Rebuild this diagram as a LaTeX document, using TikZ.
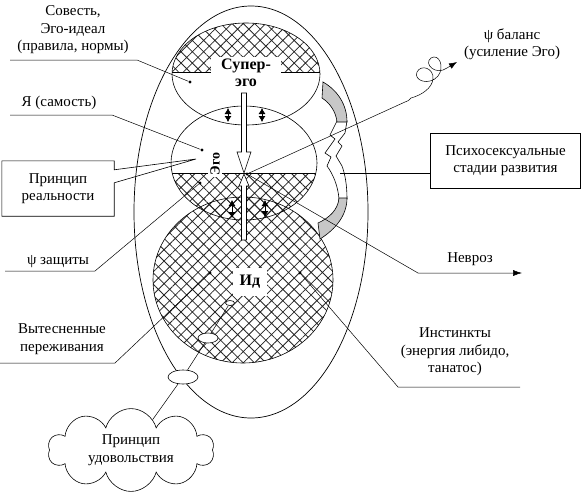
\documentclass[tikz,border=0pt]{standalone}
\usepackage{fontspec}
\setmainfont{Liberation Serif}
\usetikzlibrary{calc,positioning,arrows.meta,shapes.geometric,shapes.symbols,patterns.meta}
\tikzset{
  line/.style={line width=0.6pt},
  leader/.style={line width=0.5pt},
  dot/.style={circle, fill, inner sep=0pt, minimum size=3.4pt},
  txt/.style={align=center, inner sep=1pt, font=\fontsize{15}{17.5}\selectfont},
  head/.style={align=center, fill=white, font=\fontsize{16}{17}\selectfont\bfseries},
  hatch/.style={pattern={Hatch[angle=45, distance=8pt, line width=0.8pt]}, pattern color=black!85},
  twoway/.style={{Latex[length=6pt,width=7pt]}-{Latex[length=6pt,width=7pt]}, line width=0.8pt},
  hollow/.style={draw, fill=white, line width=0.6pt},
  stage/.style={draw, fill=black!22, line width=0.6pt},
  memory/.style={ellipse, draw, fill=white, inner sep=0pt, line width=0.6pt}
}

\begin{document}
\begin{tikzpicture}[x=1pt, y=-1pt]
  \useasboundingbox (0,0) rectangle (583,493);

  % hatched parts of the psyche
  \fill[hatch] (243,280) ellipse [x radius=90pt, y radius=83pt];
  \begin{scope}
    \clip (244,163) ellipse [x radius=73pt, y radius=57pt];
    \fill[hatch] (160,173) rectangle (330,230);
    \draw[line] (160,173) -- (330,173);
  \end{scope}
  \begin{scope}
    \clip (246,74) ellipse [x radius=74pt, y radius=51pt];
    \fill[hatch] (160,15) rectangle (330,72);
    \draw[line] (160,72) -- (330,72);
  \end{scope}

  % outlines
  \draw[line, line width=0.7pt] (251,212) ellipse [x radius=117pt, y radius=206pt];
  \draw[line] (246,74) ellipse [x radius=74pt, y radius=51pt];
  \draw[line] (244,163) ellipse [x radius=73pt, y radius=57pt];
  \draw[line] (243,280) ellipse [x radius=90pt, y radius=83pt];

  % tension between the instances
  \draw[twoway] (228,108) -- (228,122);
  \draw[twoway] (262,108) -- (262,122);
  \draw[twoway] (232,200) -- (232,218);
  \draw[twoway] (265,200) -- (265,217);

  % hollow arrows into the Ego
  \draw[hollow] (241.5,93) -- (246.5,93) -- (246.5,152) -- (251,152) -- (244,173)
    -- (237,152) -- (241.5,152) -- cycle;
  \draw[hollow] (241.5,240) -- (246.5,240) -- (246.5,186) -- (249,186) -- (244,174)
    -- (239,186) -- (241.5,186) -- cycle;

  \node[head, inner xsep=10pt, inner ysep=2pt] (superego) at (246,73) {Супер-\\эго};
  \node[head, rotate=90, inner sep=2pt, font=\fontsize{14}{15}\selectfont\bfseries] (egolabel) at (215,164) {Эго};
  \node[head, inner sep=7pt] (idlabel) at (250,282) {Ид};

  % repressed contents
  \node[memory, minimum width=9pt, minimum height=5pt] (memA) at (230,303) {};
  \node[memory, minimum width=20pt, minimum height=10pt] (memB) at (208,338) {};
  \node[memory, minimum width=30pt, minimum height=14pt] (memC) at (183,377) {};
  \node[cloud, draw, line width=0.6pt, cloud puffs=10, aspect=2.2, minimum width=166pt,
    minimum height=76pt, txt] (pleasure) at (131,450) {Принцип\\удовольствия};
  \draw[leader] (memA) -- (memB);
  \draw[leader] (memB) -- (memC);
  \draw[leader] (memC) -- (pleasure);

  % psychosexual stages
  \draw[hollow] (337,121) -- (330,135) -- (335,139) -- (325,153) -- (331,157) -- (327,166)
    .. controls (333,174) and (338,186) .. (339,199) -- (347,199)
    .. controls (347,185) and (345,174) .. (342,166) -- (336,156) -- (342,146)
    -- (338,142) -- (345,133) -- (347,121) -- cycle;
  \draw[stage] (323,82) .. controls (337,90) and (347,104) .. (347,122) -- (337,122)
    .. controls (336,112) and (330,103) .. (322,98) -- cycle;
  \draw[stage] (347,198) .. controls (347,215) and (336,229) .. (320,239) -- (318,223)
    .. controls (329,218) and (338,210) .. (339,198) -- cycle;
  \coordinate (stageMid) at (340,173);

  % dots
  \node[dot] (seDot) at (190,82) {};
  \node[dot] (selfDot) at (202,150) {};
  \node[dot] (defDot) at (200,183) {};
  \node[dot] (core) at (247,174) {};
  \node[dot] (repDot) at (210,273) {};
  \node[dot] (instDot) at (300,273) {};

  % labels left
  \node[txt] (conscience) at (73,30) {Совесть,\\Эго-идеал\\(правила, нормы)};
  \coordinate (conscienceEnd) at (10,60);
  \coordinate (conscienceBend) at (137,60);
  \draw[leader] (conscienceEnd) -- (conscienceBend) -- (seDot);

  \node[txt] (self) at (59,103) {Я (самость)};
  \coordinate (selfEnd) at (10,115);
  \coordinate (selfBend) at (112,115);
  \draw[leader] (selfEnd) -- (selfBend) -- (selfDot);

  \node[txt, minimum width=112pt, minimum height=55pt] (reality) at (58,188.5) {Принцип\\реальности};
  \coordinate (realTip) at (196,159);
  \draw[line] ($(reality.north east)+(0,9)$) -- (reality.north east) -- (reality.north west)
    -- (reality.south west) -- (reality.south east) -- ($(reality.north east)+(0,22)$)
    -- (realTip) -- cycle;

  \node[txt] (defence) at (58,262) {ψ защиты};
  \coordinate (defEnd) at (5,271);
  \coordinate (defBend) at (95,271);
  \draw[leader] (defEnd) -- (defBend) -- (defDot);

  \node[txt] (repressed) at (62,339) {Вытесненные\\переживания};
  \coordinate (repEnd) at (0,363);
  \coordinate (repBend) at (115,363);
  \draw[leader] (repEnd) -- (repBend) -- (repDot);

  % labels right
  \node[txt] (balance) at (512,44) {ψ баланс\\(усиление Эго)};
  \coordinate (balBend) at (405,102);
  \coordinate (coilStart) at (411,98);
  \coordinate (coilEnd) at (457,62);
  \draw[leader] (core) -- (balBend) .. controls (408,101) .. (coilStart);
  \draw[leader, -{Latex[length=8pt,width=6pt]}] (coilStart)
    .. controls (422,95) and (432,88) .. (433,79) .. controls (434,68) and (421,64) .. (417,72)
    .. controls (413,81) and (430,86) .. (438,76) .. controls (445,67) and (439,53) .. (431,58)
    .. controls (423,64) and (436,76) .. (447,68) -- (coilEnd);

  \node[txt, draw, line width=0.6pt, minimum width=150pt, minimum height=55pt] (stages) at (505.5,160.5)
    {Психосексуальные\\стадии развития};
  \draw[leader] (stageMid) -- (stageMid -| stages.west);

  \node[txt] (neurosis) at (470,259) {Невроз};
  \coordinate (neurBend) at (418,273);
  \coordinate (neurEnd) at (522,273);
  \draw[leader, -{Latex[length=9pt,width=6pt]}] (core) -- (neurBend) -- (neurEnd);

  \node[txt] (instinct) at (455,352) {Инстинкты\\(энергия либидо,\\танатос)};
  \coordinate (instBend) at (398,387);
  \coordinate (instEnd) at (520,387);
  \draw[leader] (instDot) -- (instBend) -- (instEnd);
\end{tikzpicture}
\end{document}
